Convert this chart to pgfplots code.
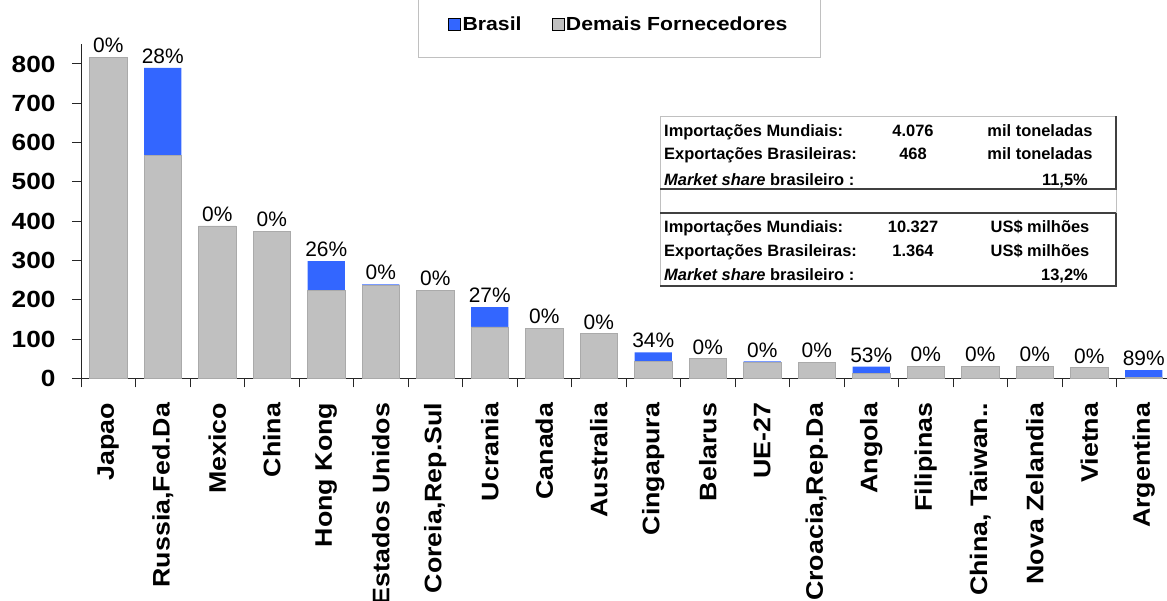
\documentclass[border=0pt]{standalone}
\usepackage{fontspec}
\setmainfont{Liberation Sans}
\newfontfamily\wide[FakeStretch=1.12]{Liberation Sans}
\usepackage{pgfplots}
\pgfplotsset{compat=1.18}
\definecolor{brasil}{RGB}{51,102,255}
\definecolor{demais}{RGB}{192,192,192}
\definecolor{bord}{RGB}{170,170,170}
\begin{document}
\begin{tikzpicture}
\path[use as bounding box] (0,0) rectangle (1167bp,-601bp);
% legend frame
\draw[demais, line width=1bp] (418bp,5bp) rectangle (820bp,-57bp);
\begin{axis}[
  at={(81bp,-378.3bp)}, anchor=south west, scale only axis,
  width=1090bp, height=334bp,
  xmin=-0.5, xmax=19.5, ymin=0, ymax=850,
  axis x line*=bottom, axis y line*=left,
  axis line style={black!85, line width=1bp},
  ybar stacked, bar width=0.68,
  xtick={0,...,19},
  xticklabels={Japao,{Russia,Fed.Da},Mexico,China,Hong Kong,Estados Unidos,{Coreia,Rep.Sul},Ucrania,Canada,Australia,Cingapura,Belarus,UE-27,{Croacia,Rep.Da},Angola,Filipinas,{China, Taiwan..},Nova Zelandia,Vietna,Argentina},
  minor xtick={-0.5,0.5,...,19.5},
  ytick={0,100,...,800},
  tick align=outside,
  major tick length=9bp, minor tick length=9bp,
  major x tick style={draw=none},
  minor x tick style={black!85, line width=1bp},
  ytick style={black!85, line width=1bp},
  /pgf/number format/assume math mode=true,
  yticklabel style={font=\wide\bfseries\fontsize{23.5}{23.5}\selectfont, xshift=-13bp},
  xticklabel style={yshift=-12bp, rotate=90, anchor=east, font=\wide\bfseries\fontsize{24}{24}\selectfont},
  legend image code/.code={\fill[#1] (0bp,-6bp) rectangle (12bp,6bp);},
  legend style={at={(0.334,1.061)}, anchor=west, draw=none, fill=none,
    legend columns=2, font=\wide\bfseries\fontsize{19}{19}\selectfont,
    /tikz/every even column/.append style={column sep=28bp}},
  clip=false,
]
\addplot[fill=demais, draw=bord, line width=0.5bp, forget plot] coordinates {
 (0,817) (1,568) (2,388) (3,374) (4,223) (5,237) (6,224) (7,131) (8,127) (9,114)
 (10,43) (11,50) (12,41) (13,40.7) (14,13.5) (15,31) (16,31) (17,31) (18,27) (19,2)};
\addplot[fill=brasil, draw=none, forget plot] coordinates {
 (0,0) (1,222) (2,0) (3,0) (4,75) (5,2) (6,0) (7,50) (8,0) (9,0) (10,23) (11,0)
 (12,2) (13,0) (14,16) (15,0) (16,0) (17,0) (18,0) (19,19)};
\addlegendimage{fill=brasil}
\addlegendentry{Brasil}
\addlegendimage{fill=demais}
\addlegendentry{Demais Fornecedores}
\end{axis}
% percentage labels at bar totals
\begin{axis}[
  at={(81bp,-378.3bp)}, anchor=south west, scale only axis,
  width=1090bp, height=334bp,
  xmin=-0.5, xmax=19.5, ymin=0, ymax=850,
  hide axis, clip=false,
]
\addplot[draw=none, mark=none, nodes near coords, point meta=explicit symbolic,
  every node near coord/.append style={font=\fontsize{21}{21}\selectfont, anchor=south, inner sep=1bp, yshift=3bp, black}] coordinates {
 (0,817) [0\%] (1,790) [28\%] (2,388) [0\%] (3,374) [0\%] (4,298) [26\%] (5,239) [0\%]
 (6,224) [0\%] (7,181) [27\%] (8,127) [0\%] (9,114) [0\%] (10,66) [34\%] (11,50) [0\%]
 (12,43) [0\%] (13,40.7) [0\%] (14,29.5) [53\%] (15,31) [0\%] (16,31) [0\%] (17,31) [0\%]
 (18,27) [0\%] (19,21) [89\%]};
\end{axis}
% info table
\draw[demais, line width=1bp] (660bp,-116bp) rectangle (1116bp,-286bp);
\draw[black!75, line width=2bp] (660bp,-189bp) -- (1116bp,-189bp) -- (1116bp,-116bp);
\draw[black!75, line width=2bp] (660bp,-213bp) -- (1116bp,-213bp);
\draw[black!75, line width=2bp] (660bp,-286bp) -- (1116bp,-286bp) -- (1116bp,-213bp);
\begin{scope}[every node/.style={inner sep=0pt, font=\bfseries\fontsize{16.5}{16.5}\selectfont}]
\node[anchor=base west] at (664bp,-136bp) {Importações Mundiais:};
\node[anchor=base] at (913bp,-136bp) {4.076};
\node[anchor=base] at (1040bp,-136bp) {mil toneladas};
\node[anchor=base west] at (664bp,-159.3bp) {Exportações Brasileiras:};
\node[anchor=base] at (913bp,-159.3bp) {468};
\node[anchor=base] at (1040bp,-159.3bp) {mil toneladas};
\node[anchor=base west] at (664bp,-185bp) {\textit{Market share} brasileiro :};
\node[anchor=base east] at (1088bp,-185bp) {11,5\%};
\node[anchor=base west] at (664bp,-232.3bp) {Importações Mundiais:};
\node[anchor=base] at (913bp,-232.3bp) {10.327};
\node[anchor=base] at (1040bp,-232.3bp) {US\$ milhões};
\node[anchor=base west] at (664bp,-256bp) {Exportações Brasileiras:};
\node[anchor=base] at (913bp,-256bp) {1.364};
\node[anchor=base] at (1040bp,-256bp) {US\$ milhões};
\node[anchor=base west] at (664bp,-280.7bp) {\textit{Market share} brasileiro :};
\node[anchor=base east] at (1088bp,-280.7bp) {13,2\%};
\end{scope}
\end{tikzpicture}
\end{document}
